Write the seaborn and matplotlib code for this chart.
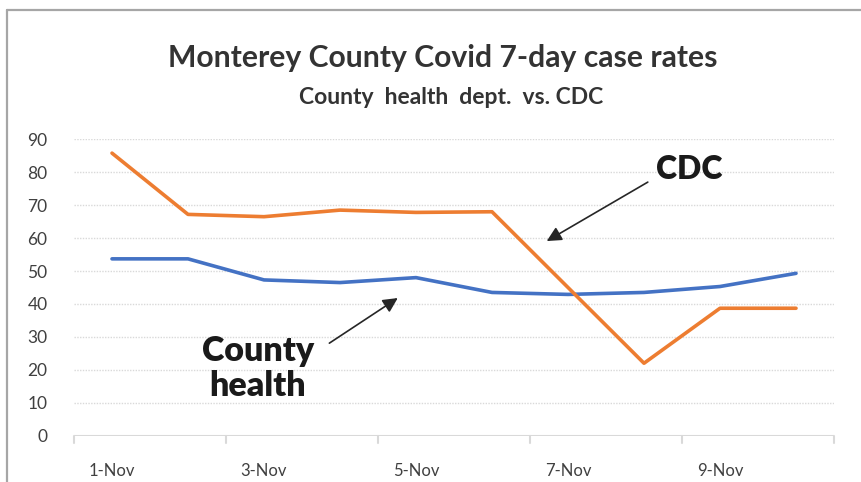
import numpy as np
import pandas as pd
import seaborn as sns
import matplotlib.pyplot as plt
from matplotlib.lines import Line2D

dates = ['1-Nov', '2-Nov', '3-Nov', '4-Nov', '5-Nov',
         '6-Nov', '7-Nov', '8-Nov', '9-Nov', '10-Nov']
county = [53.7, 53.7, 47.3, 46.5, 48.0, 43.5, 42.9, 43.5, 45.3, 49.3]
cdc = [85.8, 67.2, 66.5, 68.5, 67.8, 68.0, 45.0, 22.0, 38.7, 38.7]
yticks = [0, 10, 20, 30, 40, 50, 60, 70, 80, 90]

BLUE = '#4472C4'
ORANGE = '#ED7D31'
TXT = '#404040'
GRID = '#D9D9D9'

sns.set_theme(style='white')
plt.rcParams['font.family'] = ['Lato', 'DejaVu Sans']

df = pd.DataFrame({'date': dates * 2,
                   'rate': county + cdc,
                   'source': ['County'] * len(dates) + ['CDC'] * len(dates)})
df['x'] = np.tile(np.arange(len(dates)), 2)

fig = plt.figure(figsize=(8.62, 4.82), dpi=100)
ax = fig.add_axes([74 / 862, 1 - 435.7 / 482, 760 / 862, (435.7 - 139.3) / 482])

sns.lineplot(data=df, x='x', y='rate', hue='source',
             palette={'County': BLUE, 'CDC': ORANGE},
             hue_order=['County', 'CDC'], linewidth=2.6,
             legend=False, ax=ax)

ax.set_xlim(-0.5, len(dates) - 0.5)
ax.set_ylim(0, 90)
ax.set_yticks(yticks)
ax.set_yticklabels([str(v) for v in yticks], fontsize=12.5, color=TXT)
ax.set_xticks(np.arange(0, len(dates), 2))
ax.set_xticklabels(dates[::2], fontsize=12, color=TXT)
ax.tick_params(axis='x', length=0, pad=20)
ax.tick_params(axis='y', length=0, pad=19)
ax.set_xlabel('')
ax.set_ylabel('')
for s in ax.spines.values():
    s.set_visible(False)

# dotted gridlines
for v in yticks[1:]:
    ax.axhline(v, color=GRID, lw=1.0, ls=(0, (1, 1)), zorder=0)
ax.axhline(0, color=GRID, lw=1.5, zorder=1)
# category boundary ticks every two days
for b in np.arange(-0.5, len(dates), 2):
    ax.plot([b, b], [0, -2.2], color=GRID, lw=1.5, clip_on=False)

# titles
fig.text(443 / 862, 1 - 58 / 482, 'Monterey County Covid 7-day case rates',
         ha='center', va='center', fontsize=21.7, fontweight='bold', color='#333333')
fig.text(451 / 862, 1 - 98 / 482, 'County  health  dept.  vs. CDC',
         ha='center', va='center', fontsize=16.5, fontweight='bold', color='#333333')

# annotations
arrow = dict(arrowstyle='-|>', color='#262626', lw=1.2,
             mutation_scale=22, shrinkA=0, shrinkB=0)
ax.text(7.6, 80.7, 'CDC', fontsize=23, fontweight='heavy', color='#1a1a1a',
        ha='center', va='center')
ax.annotate('', xy=(5.72, 59.1), xytext=(7.05, 77.0), arrowprops=arrow)
ax.text(1.92, 20.3, 'County\nhealth', fontsize=24.5, fontweight='heavy',
        color='#1a1a1a', ha='center', va='center', linespacing=1.12)
ax.annotate('', xy=(3.76, 41.8), xytext=(2.86, 28.1), arrowprops=arrow)

# chart border (left and top)
fig.add_artist(Line2D([7 / 862, 7 / 862], [0, 1 - 10 / 482],
                      color='#A6A6A6', lw=1.6))
fig.add_artist(Line2D([7 / 862, 1], [1 - 10 / 482, 1 - 10 / 482],
                      color='#A6A6A6', lw=1.6))

fig.savefig('out.png', dpi=100)
